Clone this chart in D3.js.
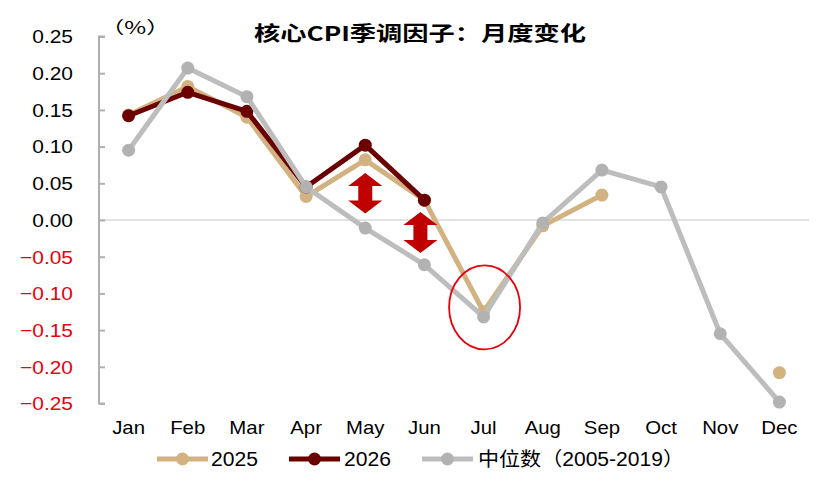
<!DOCTYPE html>
<html><head><meta charset="utf-8">
<script src="https://cdn.jsdelivr.net/npm/d3@7"></script>
<style>
body{margin:0;background:#fff;}
svg{font-family:"Liberation Sans",Arial,"Noto Sans CJK SC",sans-serif;}
</style></head>
<body><svg id="c" width="830" height="491"></svg>
<script>
const months = ["Jan","Feb","Mar","Apr","May","Jun","Jul","Aug","Sep","Oct","Nov","Dec"];
const s2025 = [0.143,0.182,0.140,0.032,0.082,0.027,-0.125,-0.008,0.034,null,null,-0.208];
const s2026 = [0.142,0.174,0.148,0.045,0.102,0.027,null,null,null,null,null,null];
const sMedian = [0.095,0.207,0.168,0.045,-0.011,-0.061,-0.132,-0.004,0.068,0.045,-0.155,-0.248];
const yTicks = [0.25,0.20,0.15,0.10,0.05,0.00,-0.05,-0.10,-0.15,-0.20,-0.25];
const title = "核心CPI季调因子：月度变化";
const unit = "（%）";
const seriesNames = ["2025","2026","中位数（2005-2019）"];
const colors = ["#d3b281","#6b0000","#bdbdbd"];
const markerColors = ["#d3b281","#6b0000","#b2b2b2"];

const svg = d3.select("#c");
const x = d3.scaleBand().domain(months).range([99,809]);
const y = d3.scaleLinear().domain([-0.25,0.25]).range([403.5,36.5]);
const cx = m => x(m) + x.bandwidth()/2;

function stretch(sel, k){
  sel.each(function(){
    const w = this.getComputedTextLength();
    this.setAttribute("textLength", (w*k).toFixed(1));
    this.setAttribute("lengthAdjust","spacingAndGlyphs");
  });
}

// zero line
svg.append("line").attr("x1",99).attr("x2",809).attr("y1",y(0)).attr("y2",y(0))
  .attr("stroke","#d9d9d9").attr("stroke-width",1.5);

// y axis
const yAxis = d3.axisRight(y).tickValues(yTicks).tickSize(6).tickFormat("");
const ga = svg.append("g").attr("transform","translate(99,0)").call(yAxis);
ga.select(".domain").attr("stroke","#b0b0b0").attr("stroke-width",2).attr("d",`M6,${y(0.25)}H0V${y(-0.25)}H6`);
ga.selectAll(".tick line").attr("stroke","#b0b0b0").attr("stroke-width",2);

// y labels
const yl = svg.append("g").selectAll("text").data(yTicks).join("text")
  .attr("x",73).attr("y",d=>y(d)).attr("dy","0.36em").attr("text-anchor","end")
  .attr("font-size",19).attr("fill",d=>d<0?"#e8000b":"#000")
  .text(d=>d3.format(".2f")(d));
stretch(yl,1.1);

// x labels
const xl = svg.append("g").selectAll("text").data(months).join("text")
  .attr("x",d=>cx(d)).attr("y",427).attr("dy","0.36em").attr("text-anchor","middle")
  .attr("font-size",18.5).attr("fill","#000").text(d=>d);
stretch(xl,1.1);

// series
const all = [s2025,s2026,sMedian];
const line = d3.line().defined(d=>d.v!==null).x(d=>cx(d.m)).y(d=>y(d.v));
all.forEach((s,i)=>{
  const data = s.map((v,j)=>({m:months[j],v}));
  svg.append("path").datum(data).attr("d",line).attr("fill","none")
    .attr("stroke",colors[i]).attr("stroke-width",5).attr("stroke-linejoin","round");
  svg.append("g").selectAll("circle").data(data.filter(d=>d.v!==null)).join("circle")
    .attr("cx",d=>cx(d.m)).attr("cy",d=>y(d.v)).attr("r",6.5).attr("fill",markerColors[i]);
});

// double arrows
function dblArrow(xc, y1, y2){
  const hw=17, sw=7, hh=13;
  const p = [[xc,y1],[xc+hw,y1+hh],[xc+sw,y1+hh],[xc+sw,y2-hh],[xc+hw,y2-hh],[xc,y2],
             [xc-hw,y2-hh],[xc-sw,y2-hh],[xc-sw,y1+hh],[xc-hw,y1+hh]];
  svg.append("polygon").attr("points",p.map(d=>d.join(",")).join(" ")).attr("fill","#c00000");
}
dblArrow(cx("May"), y(0.064), y(0.009));
dblArrow(cx("Jun")-4, y(0.011), y(-0.045));

// ellipse
svg.append("ellipse").attr("cx",cx("Jul")+1).attr("cy",y(-0.119)).attr("rx",35.5).attr("ry",42)
  .attr("fill","none").attr("stroke","#e8000b").attr("stroke-width",1.8);

// title
svg.append("text").attr("x",420).attr("y",41).attr("text-anchor","middle")
  .attr("font-family","'Noto Sans CJK SC',sans-serif").attr("font-weight","bold")
  .attr("font-size",20.5).attr("textLength",332).attr("lengthAdjust","spacingAndGlyphs").text(title);
svg.append("text").attr("transform","translate(100.5,34) scale(1.4,1)")
  .attr("font-family","'Noto Sans CJK SC',sans-serif")
  .attr("font-size",17).text(unit);

// legend
const leg = [{x:157,tx:211},{x:289,tx:344},{x:422,tx:478}];
leg.forEach((l,i)=>{
  const g = svg.append("g");
  g.append("line").attr("x1",l.x).attr("x2",l.x+51).attr("y1",459).attr("y2",459)
    .attr("stroke",colors[i]).attr("stroke-width",5);
  g.append("circle").attr("cx",l.x+25.5).attr("cy",459).attr("r",6.5).attr("fill",markerColors[i]);
  const t = g.append("text").attr("x",l.tx).attr("y",459).attr("dy","0.36em").attr("font-size",19.5)
    .attr("font-family","'Liberation Sans','Noto Sans CJK SC',sans-serif").text(seriesNames[i]);
  stretch(t,1.08);
});
</script></body></html>
